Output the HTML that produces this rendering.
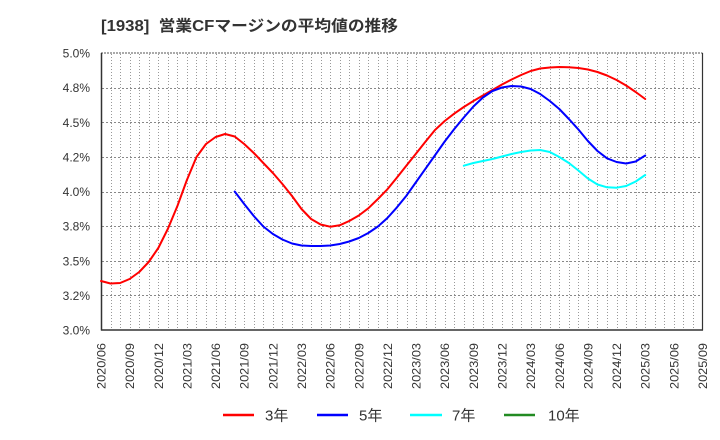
<!DOCTYPE html>
<html><head><meta charset="utf-8"><style>
html,body{margin:0;padding:0;background:#fff;}
svg{display:block;}
text{font-family:"Liberation Sans","Noto Sans CJK JP",sans-serif;fill:#333;}
</style></head><body>
<svg width="720" height="440" viewBox="0 0 720 440" xmlns="http://www.w3.org/2000/svg">
<text x="101" y="31" font-size="15.5" font-weight="bold" textLength="297" lengthAdjust="spacingAndGlyphs">[1938]&#160;&#160;営業CFマージンの平均値の推移</text>
<g id="vgrid" stroke="#999" stroke-width="1" stroke-dasharray="1,2"></g>
<g id="hgrid" stroke="#888" stroke-width="1" stroke-dasharray="2,2"></g>
<g id="ylab" font-size="12" text-anchor="end"></g>
<g id="xlab" font-size="12" text-anchor="end"></g>
<line x1="101" y1="53" x2="702.5" y2="53" stroke="#555" stroke-width="1" stroke-dasharray="2,1"/>
<line x1="101.5" y1="53" x2="101.5" y2="330.5" stroke="#333" stroke-width="1.5"/>
<line x1="101" y1="330" x2="703" y2="330" stroke="#333" stroke-width="1.5"/>
<line x1="702.5" y1="53" x2="702.5" y2="330.5" stroke="#333" stroke-width="1.2"/>
<g fill="none" stroke-width="2" stroke-linejoin="round" stroke-linecap="round">
<polyline id="red" stroke="#ff0000"/>
<polyline id="blue" stroke="#0000ff"/>
<polyline id="cyan" stroke="#00ffff"/>
</g>
<g stroke-width="2.5">
<line x1="223" y1="415" x2="254" y2="415" stroke="#ff0000"/>
<line x1="317" y1="415" x2="348" y2="415" stroke="#0000ff"/>
<line x1="410" y1="415" x2="442" y2="415" stroke="#00ffff"/>
<line x1="504" y1="415" x2="535" y2="415" stroke="#228b22"/>
</g>
<g font-size="15">
<text x="265" y="420.5">3年</text>
<text x="359" y="420.5">5年</text>
<text x="452" y="420.5">7年</text>
<text x="548" y="420.5">10年</text>
</g>
</svg>
<script>
(function(){
var NS="http://www.w3.org/2000/svg";
function X(i){return 101+9.548*i;}
var vg=document.getElementById('vgrid');
for(var i=1;i<63;i++){var l=document.createElementNS(NS,'line');var x=Math.round(X(i))+0.5;l.setAttribute('x1',x);l.setAttribute('x2',x);l.setAttribute('y1',54);l.setAttribute('y2',330);vg.appendChild(l);}
var hg=document.getElementById('hgrid');var yl=document.getElementById('ylab');
var labs=["5.0%","4.8%","4.5%","4.2%","4.0%","3.8%","3.5%","3.2%","3.0%"];
for(var k=0;k<9;k++){var y=53+34.625*k;
 if(k>0&&k<8){var l=document.createElementNS(NS,'line');var yy=Math.round(y)+0.5;l.setAttribute('x1',102);l.setAttribute('x2',702);l.setAttribute('y1',yy);l.setAttribute('y2',yy);hg.appendChild(l);}
 var t=document.createElementNS(NS,'text');t.setAttribute('x',90);t.setAttribute('y',(y+4.5).toFixed(1));t.textContent=labs[k];yl.appendChild(t);}
var xl=document.getElementById('xlab');
for(var i=0;i<=63;i+=3){var m=6+i;var yr=2020+Math.floor((m-1)/12);var mo=((m-1)%12)+1;
 var s=yr+"/"+(mo<10?"0":"")+mo;var t=document.createElementNS(NS,'text');
 t.setAttribute('transform','translate('+(X(i)+4.5).toFixed(1)+',343) rotate(-90)');
 t.setAttribute('textLength','46');t.setAttribute('lengthAdjust','spacingAndGlyphs');t.textContent=s;xl.appendChild(t);}
function pts(start,arr){return arr.map(function(v,j){return X(start+j).toFixed(1)+','+v;}).join(' ');}
var red=[281,283.5,283,279,272,262,248,229,206,180,157,144,137,134,136.5,144,153,163,173,184,196,209,219,224.5,226.7,225.3,221,215.5,208.3,199,189.3,177.5,165.5,153.5,141.5,129.8,121,113.6,107,101,95.5,90,84.5,79.5,75,71,68.5,67.5,67,67.3,68,69.5,72,75.5,80,85.5,92,99];
var blue=[191.5,204,216,226.5,234,239.5,243.5,245.5,246,246,245.5,244,241.5,238,233,226.5,218,207.3,195.6,182,168.6,155,141.5,129,117.5,106.5,97.5,91,87.5,86,86.5,89,94,101,109,119,129.5,141,151,158.3,162,163.5,161.5,155.5];
var cyan=[165.7,163,161,159,156.5,154,152,150.5,150,152,157,163,170.5,178.5,184.5,187.3,187.7,186,181.5,175];
document.getElementById('red').setAttribute('points',pts(0,red));
document.getElementById('blue').setAttribute('points',pts(14,blue));
document.getElementById('cyan').setAttribute('points',pts(38,cyan));
})();
</script>
</body></html>
